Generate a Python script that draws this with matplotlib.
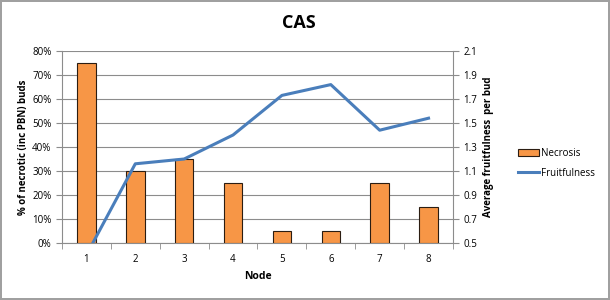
import numpy as np
import matplotlib.pyplot as plt
from matplotlib.ticker import FixedLocator, PercentFormatter

nodes = [1, 2, 3, 4, 5, 6, 7, 8]
necrosis = [75, 30, 35, 25, 5, 5, 25, 15]
fruitfulness = [0.40, 1.16, 1.20, 1.40, 1.73, 1.82, 1.44, 1.54]

plt.rcParams['font.family'] = ['Open Sans', 'DejaVu Sans']

fig = plt.figure(figsize=(6.1, 3.0), dpi=100)
fig.patch.set_edgecolor('#a0a0a0')
fig.patch.set_linewidth(1.5)
ax = fig.add_axes([0.1016, 0.19, 0.641, 0.64])

ax.bar(nodes, necrosis, width=0.38, color='#F79646', edgecolor='#2b1d12',
       linewidth=0.8, zorder=3, label='Necrosis')
ax.set_xlim(0.5, 8.5)
ax.set_ylim(0, 80)
ax.set_yticks(np.arange(0, 81, 10))
ax.yaxis.set_major_formatter(PercentFormatter(decimals=0))
ax.grid(axis='y', color='#8c8c8c', linewidth=0.8, zorder=0)
ax.set_xticks(nodes)
ax.xaxis.set_minor_locator(FixedLocator(np.arange(0.5, 9, 1)))
ax.tick_params(axis='x', which='major', length=0, labelsize=7, pad=8)
ax.tick_params(axis='x', which='minor', length=4, direction='out', color='#8c8c8c')
ax.tick_params(axis='y', length=4, direction='out', color='#8c8c8c', labelsize=7)
ax.set_xlabel('Node', fontsize=7.5, fontweight='bold', labelpad=4)
ax.set_ylabel('% of necrotic (inc PBN) buds', fontsize=7, fontweight='bold', labelpad=2)
for s in ['top', 'right']:
    ax.spines[s].set_visible(False)
for s in ['left', 'bottom']:
    ax.spines[s].set_color('#8c8c8c')

ax2 = ax.twinx()
ax2.plot(nodes, fruitfulness, color='#4A7EBB', linewidth=2.2, label='Fruitfulness',
         clip_on=True, zorder=4)
ax2.set_ylim(0.5, 2.1)
ax2.set_yticks(np.round(np.arange(0.5, 2.11, 0.2), 1))
ax2.yaxis.set_major_formatter(lambda v, p: f'{v:.1f}')
ax2.tick_params(axis='y', length=4, direction='out', color='#8c8c8c', labelsize=7)
ax2.set_ylabel('Average fruitfulness  per bud', fontsize=7, fontweight='bold', labelpad=4)
for s in ['top', 'left', 'bottom']:
    ax2.spines[s].set_visible(False)
ax2.spines['right'].set_color('#8c8c8c')

fig.text(0.49, 0.925, 'CAS', ha='center', va='center', fontsize=13, fontweight='bold')

h1, l1 = ax.get_legend_handles_labels()
h2, l2 = ax2.get_legend_handles_labels()
fig.legend(h1 + h2, l1 + l2, loc='center left', bbox_to_anchor=(0.835, 0.455),
           frameon=False, fontsize=7, handlelength=2.2, handletextpad=0.2,
           labelspacing=0.9)

fig.savefig('out.png', dpi=100)
